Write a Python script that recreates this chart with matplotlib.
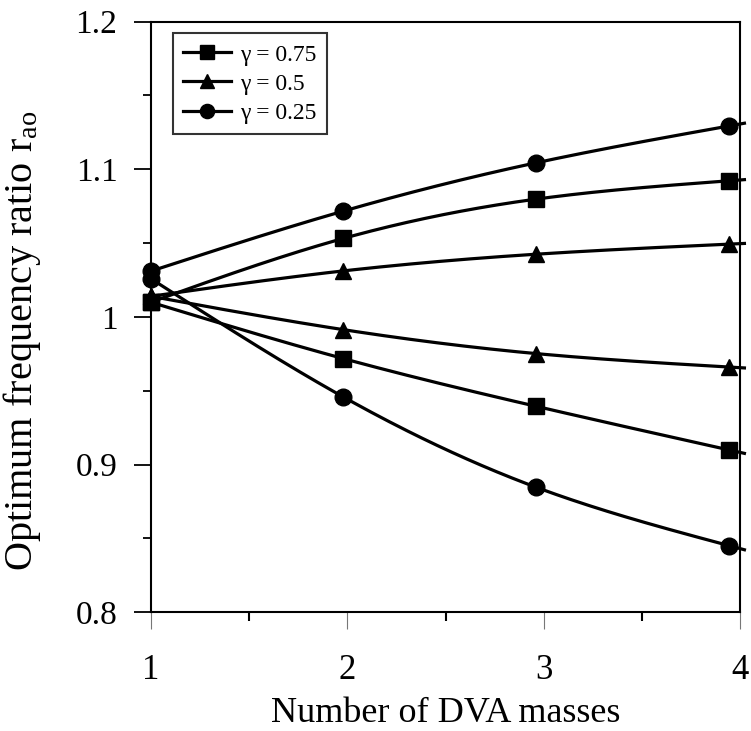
import numpy as np
import matplotlib
matplotlib.use('Agg')
import matplotlib.pyplot as plt
from matplotlib.ticker import MultipleLocator, FixedLocator

plt.rcParams['font.family'] = ['Liberation Serif', 'DejaVu Serif']
plt.rcParams['mathtext.fontset'] = 'custom'
plt.rcParams['mathtext.rm'] = 'Liberation Serif'
plt.rcParams['mathtext.it'] = 'Liberation Serif:italic'

# number of DVA masses (marker positions along the axis)
masses = [1.0, 1.98, 2.96, 3.94]

# optimum frequency ratio, upper and lower branch for each mass ratio
r_upper_075 = [1.010, 1.0532, 1.0798, 1.0922]
r_lower_075 = [1.010, 0.9718, 0.9395, 0.9100]
r_upper_050 = [1.014, 1.0312, 1.0425, 1.0493]
r_lower_050 = [1.014, 0.9914, 0.9752, 0.9661]
r_upper_025 = [1.031, 1.0717, 1.1044, 1.1293]
r_lower_025 = [1.026, 0.9458, 0.8847, 0.8452]

labels = ['γ = 0.75', 'γ = 0.5', 'γ = 0.25']


def natural_spline(x, y, xs):
    # plain natural cubic spline, so no scipy needed
    x = np.asarray(x, float)
    y = np.asarray(y, float)
    n = len(x)
    h = np.diff(x)
    A = np.zeros((n, n))
    b = np.zeros(n)
    A[0, 0] = A[-1, -1] = 1.0
    for i in range(1, n - 1):
        A[i, i - 1] = h[i - 1]
        A[i, i] = 2 * (h[i - 1] + h[i])
        A[i, i + 1] = h[i]
        b[i] = 3 * ((y[i + 1] - y[i]) / h[i] - (y[i] - y[i - 1]) / h[i - 1])
    c = np.linalg.solve(A, b)
    bb = (np.diff(y) / h) - h * (2 * c[:-1] + c[1:]) / 3
    d = np.diff(c) / (3 * h)
    idx = np.clip(np.searchsorted(x, xs) - 1, 0, n - 2)
    dx = xs - x[idx]
    return y[idx] + bb[idx] * dx + c[idx] * dx ** 2 + d[idx] * dx ** 3


fig = plt.figure(figsize=(7.51, 7.31), dpi=100)
ax = fig.add_axes([0.2007, 0.1624, 0.7853, 0.8080])

xs = np.linspace(masses[0], 4.02, 200)
series = [
    (r_upper_075, r_lower_075, 's', 12, labels[0]),
    (r_upper_050, r_lower_050, '^', 12, labels[1]),
    (r_upper_025, r_lower_025, 'o', 12, labels[2]),
]
for up, low, mk, ms, lab in series:
    for yv in (up, low):
        ax.plot(xs, natural_spline(masses, yv, xs), color='k', lw=2.3,
                clip_on=False, zorder=3)
        ax.plot(masses, yv, linestyle='none', marker=mk, ms=ms, color='k',
                clip_on=False, zorder=4)
    # legend proxy
    ax.plot([], [], color='k', lw=2.3, marker=mk, ms=ms * 0.85, label=lab)

ax.set_xlim(1, 4)
ax.set_ylim(0.8, 1.2)
ax.xaxis.set_major_locator(FixedLocator([1, 2, 3, 4]))
ax.xaxis.set_minor_locator(FixedLocator([1.5, 2.5, 3.5]))
ax.yaxis.set_minor_locator(MultipleLocator(0.05))
ax.set_yticks([0.8, 0.9, 1.0, 1.1, 1.2])
ax.set_yticklabels(['0.8', '0.9', '1', '1.1', '1.2'])
ax.set_xticklabels(['1', '2', '3', '4'])

for sp in ax.spines.values():
    sp.set_linewidth(1.5)

ax.tick_params(axis='x', which='major', direction='out', length=12,
               width=0.8, color='#777777', labelsize=25, pad=18)
ax.tick_params(axis='x', which='minor', direction='out', length=6.5,
               width=1.5, color='k')
ax.tick_params(axis='y', which='major', direction='out', length=12,
               width=1.3, labelsize=24, pad=12)
ax.tick_params(axis='y', which='minor', direction='out', length=6,
               width=1.3)

ax.set_xlabel('Number of DVA masses', fontsize=26)
ax.set_ylabel(r'Optimum frequency ratio r$_{\mathrm{ao}}$', fontsize=29)
ax.xaxis.set_label_coords(0.5, -0.144)
ax.yaxis.set_label_coords(-0.183, 0.459)

leg = ax.legend(loc='upper left', bbox_to_anchor=(0.0373, 0.980),
                borderaxespad=0, fontsize=17, frameon=True, fancybox=False,
                handlelength=2.0, handletextpad=0.4, labelspacing=0.32,
                borderpad=0.45)
leg.get_frame().set_edgecolor('k')
leg.get_frame().set_linewidth(1.5)

fig.savefig('out.png', dpi=100)
